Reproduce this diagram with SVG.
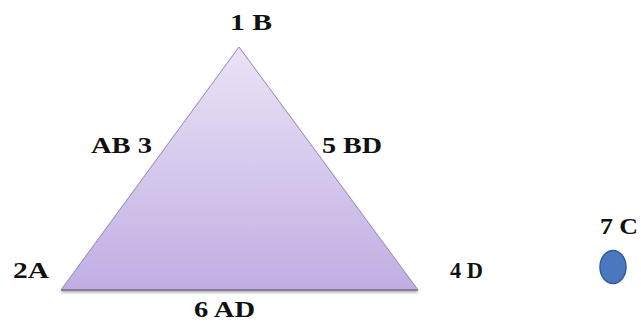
<svg xmlns="http://www.w3.org/2000/svg" width="641" height="323" viewBox="0 0 641 323">
  <defs>
    <linearGradient id="triFill" x1="0" y1="0" x2="0" y2="1">
      <stop offset="0" stop-color="#ebe3f6"/>
      <stop offset="1" stop-color="#c0aee3"/>
    </linearGradient>
    <filter id="shadow" x="-10%" y="-10%" width="120%" height="130%">
      <feGaussianBlur in="SourceAlpha" stdDeviation="1.5"/>
      <feOffset dx="0" dy="2" result="b"/>
      <feComponentTransfer><feFuncA type="linear" slope="0.35"/></feComponentTransfer>
      <feMerge><feMergeNode/><feMergeNode in="SourceGraphic"/></feMerge>
    </filter>
  </defs>
  <style>
    .lbl { font-family: "Liberation Serif", "DejaVu Serif", serif; font-weight: bold; font-size: 23px; fill: #111; }
  </style>
  <rect width="641" height="323" fill="#ffffff"/>
  <g id="triangle" filter="url(#shadow)">
    <polygon points="239,47 61,290 418,290" fill="url(#triFill)" stroke="#9a8aaf" stroke-width="1"/>
  </g>
  <g id="connectors">
    <line x1="61" y1="290" x2="418" y2="290" stroke="#7d6f90" stroke-width="1.5"/>
  </g>
  <g id="node-1B"><text class="lbl" x="230" y="30" textLength="42" lengthAdjust="spacingAndGlyphs">1 B</text></g>
  <g id="node-AB3"><text class="lbl" x="91" y="153" textLength="61" lengthAdjust="spacingAndGlyphs">AB 3</text></g>
  <g id="node-5BD"><text class="lbl" x="322" y="153" textLength="60" lengthAdjust="spacingAndGlyphs">5 BD</text></g>
  <g id="node-2A"><text class="lbl" x="13" y="278" textLength="36" lengthAdjust="spacingAndGlyphs">2A</text></g>
  <g id="node-4D"><text class="lbl" x="450" y="278" textLength="33" lengthAdjust="spacingAndGlyphs">4 D</text></g>
  <g id="node-6AD"><text class="lbl" x="194" y="317" textLength="61" lengthAdjust="spacingAndGlyphs">6 AD</text></g>
  <g id="node-7C">
    <text class="lbl" x="600" y="234" textLength="38" lengthAdjust="spacingAndGlyphs">7 C</text>
    <ellipse cx="613" cy="267" rx="13" ry="16.5" fill="#4a78bf" stroke="#355c94" stroke-width="1.5"/>
  </g>
</svg>
